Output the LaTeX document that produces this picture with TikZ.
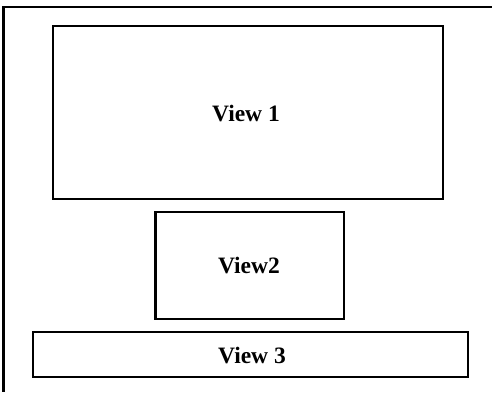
\documentclass[tikz,border=0pt]{standalone}
\usepackage{fontspec}
\setmainfont{Liberation Serif}
\begin{document}
\begin{tikzpicture}[x=1pt,y=-1pt,
  viewbox/.style={draw=black, line width=2.4pt, inner sep=0pt},
  viewlabel/.style={font=\fontsize{23.5}{27}\selectfont\bfseries}]
\useasboundingbox (0,0) rectangle (492,392);
% outer frame: only the top and left edges are visible
\draw[line width=2.4pt] (492,7) -- (3.5,7) -- (3.5,392);
% view boxes
\draw[viewbox] (53,26) rectangle (443,199);
\draw[viewbox] (155.5,212) rectangle (344,319);
\draw[viewbox] (33,332) rectangle (468,377);
% labels
\node[viewlabel] (v1) at (246,114) {View 1};
\node[viewlabel] (v2) at (249,266) {View2};
\node[viewlabel] (v3) at (252,356) {View 3};
\end{tikzpicture}
\end{document}
